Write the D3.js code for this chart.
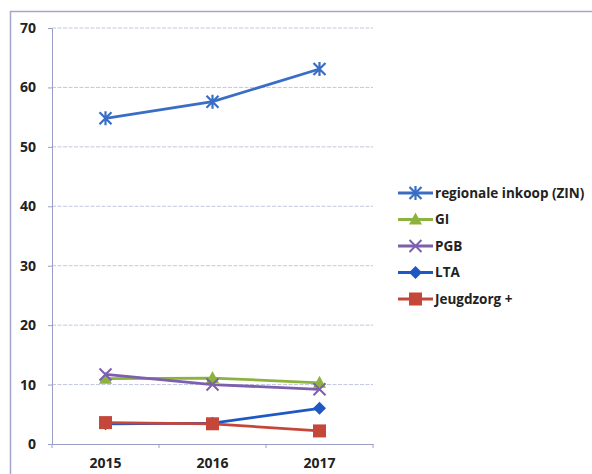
<!DOCTYPE html>
<html>
<head>
<meta charset="utf-8">
<script src="https://cdn.jsdelivr.net/npm/d3@7"></script>
<style>
  body { margin: 0; background: #fff; }
  svg text { font-family: "Open Sans", "Liberation Sans", sans-serif; font-weight: bold; fill: #222; }
</style>
</head>
<body>
<svg id="chart" width="592" height="474"></svg>
<script>
const years = ['2015', '2016', '2017'];
const seriesNames = ['regionale inkoop (ZIN)', 'GI', 'PGB', 'LTA', 'Jeugdzorg +'];
const zin = [54.8, 57.6, 63.1];
const gi = [11.0, 11.1, 10.3];
const pgb = [11.7, 10.0, 9.2];
const lta = [3.4, 3.5, 6.0];
const jeugd = [3.6, 3.4, 2.2];
const yTicks = [0, 10, 20, 30, 40, 50, 60, 70];

const colors = ['#3a6ec4', '#8db33f', '#7d5fae', '#1f58c4', '#c5473a'];
const markers = ['star', 'triangle', 'cross', 'diamond', 'square'];
const values = [zin, gi, pgb, lta, jeugd];

const svg = d3.select('#chart');

// outer frame
svg.append('rect')
  .attr('x', 10.5).attr('y', 11.5)
  .attr('width', 600).attr('height', 480)
  .attr('fill', 'none').attr('stroke', '#a3a6cc').attr('stroke-width', 1.5);

const x = d3.scaleBand().domain(years).range([52, 373]);
const y = d3.scaleLinear().domain([0, 70]).range([444, 28]);

// grid
svg.append('g').selectAll('line').data(yTicks.filter(d => d > 0)).join('line')
  .attr('x1', 52).attr('x2', 373)
  .attr('y1', d => y(d)).attr('y2', d => y(d))
  .attr('stroke', '#c3c6e0').attr('stroke-width', 1).attr('stroke-dasharray', '4,1.5');

// y axis
const yAxis = svg.append('g').attr('transform', 'translate(52,0)')
  .call(d3.axisLeft(y).tickValues(yTicks).tickSize(4).tickPadding(12));
yAxis.select('.domain').attr('stroke', '#9a9ec4');
yAxis.selectAll('.tick line').attr('stroke', '#9a9ec4');
yAxis.selectAll('.tick text').attr('font-size', 14).attr('fill', '#222');

// x axis
const xAxis = svg.append('g').attr('transform', 'translate(0,444)')
  .call(d3.axisBottom(x).tickSize(0).tickPadding(14));
xAxis.select('.domain').attr('stroke', '#9a9ec4');
xAxis.selectAll('.tick text').attr('font-size', 14).attr('fill', '#222');
svg.append('g').selectAll('line').data([52, 52 + x.bandwidth(), 52 + 2 * x.bandwidth(), 373]).join('line')
  .attr('x1', d => d).attr('x2', d => d).attr('y1', 444).attr('y2', 448)
  .attr('stroke', '#9a9ec4');

function drawMarker(g, type, color) {
  if (type === 'star') {
    g.append('path').attr('d', 'M-6,-6L6,6M-6,6L6,-6M0,-7L0,7')
      .attr('stroke', color).attr('stroke-width', 2.2).attr('fill', 'none');
  } else if (type === 'cross') {
    g.append('path').attr('d', 'M-6,-6L6,6M-6,6L6,-6')
      .attr('stroke', color).attr('stroke-width', 2).attr('fill', 'none');
  } else if (type === 'triangle') {
    g.append('path').attr('d', 'M0,-7L6.5,5L-6.5,5Z').attr('fill', color);
  } else if (type === 'diamond') {
    g.append('path').attr('d', 'M0,-6.5L6.5,0L0,6.5L-6.5,0Z').attr('fill', color);
  } else if (type === 'square') {
    g.append('rect').attr('x', -6.5).attr('y', -6.5).attr('width', 13).attr('height', 13).attr('fill', color);
  }
}

const line = d3.line().x((d, i) => x(years[i]) + x.bandwidth() / 2).y(d => y(d));

values.forEach((vals, si) => {
  svg.append('path').datum(vals)
    .attr('d', line)
    .attr('fill', 'none')
    .attr('stroke', colors[si])
    .attr('stroke-width', 2.8);
  vals.forEach((v, i) => {
    const g = svg.append('g')
      .attr('transform', `translate(${x(years[i]) + x.bandwidth() / 2},${y(v)})`);
    drawMarker(g, markers[si], colors[si]);
  });
});

// legend
const legend = svg.append('g').attr('transform', 'translate(398,193)');
seriesNames.forEach((name, i) => {
  const row = legend.append('g').attr('transform', `translate(0,${i * 26.5})`);
  row.append('line').attr('x1', 0).attr('x2', 35).attr('y1', 0).attr('y2', 0)
    .attr('stroke', colors[i]).attr('stroke-width', 3);
  const m = row.append('g').attr('transform', 'translate(17.5,0)');
  drawMarker(m, markers[i], colors[i]);
  row.append('text').attr('x', 37).attr('y', 0).attr('dy', '0.35em')
    .attr('font-size', 13.5).text(name);
});
</script>
</body>
</html>
